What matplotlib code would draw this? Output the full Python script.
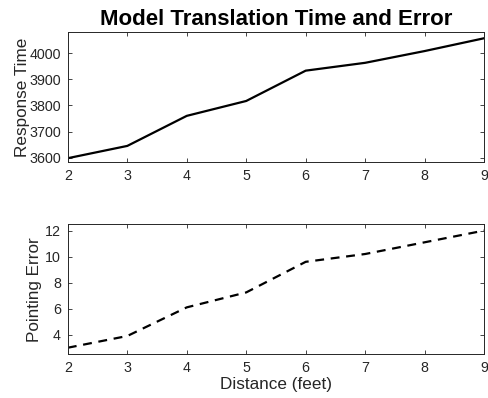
import matplotlib
matplotlib.use('Agg')
import matplotlib.pyplot as plt

# Data
distance = [2, 3, 4, 5, 6, 7, 8, 9]
response_time = [3598, 3645, 3760, 3817, 3933, 3963, 4008, 4057]
pointing_error = [3.0, 3.9, 6.1, 7.25, 9.6, 10.2, 11.1, 12.0]
x_ticks = [2, 3, 4, 5, 6, 7, 8, 9]
rt_ticks = [3600, 3700, 3800, 3900, 4000]
pe_ticks = [4, 6, 8, 10, 12]

plt.rcParams['font.family'] = ['Liberation Sans', 'DejaVu Sans']
grey = '#262626'

fig = plt.figure(figsize=(4.88, 3.98), dpi=100)
ax1 = fig.add_axes([0.139, 0.594, 0.853, 0.325])
ax2 = fig.add_axes([0.139, 0.110, 0.853, 0.327])

ax1.plot(distance, response_time, color='black', linewidth=1.6)
ax2.plot(distance, pointing_error, color='black', linewidth=1.6, linestyle=(0, (4, 3)))

ax1.set_ylim(3585, 4080)
ax1.set_yticks(rt_ticks)
ax2.set_ylim(2.5, 12.5)
ax2.set_yticks(pe_ticks)

for ax in (ax1, ax2):
  ax.set_xlim(2, 9)
  ax.set_xticks(x_ticks)
  ax.tick_params(direction='in', top=True, right=True, length=3, width=0.6,
                 labelsize=10.3, colors=grey, labelcolor=grey, pad=5)
  for sp in ax.spines.values():
    sp.set_linewidth(0.7)
    sp.set_color(grey)

ax1.set_ylabel('Response Time', fontsize=12.3, color=grey)
ax2.set_ylabel('Pointing Error', fontsize=12.3, color=grey)
ax1.yaxis.set_label_coords(-0.091, 0.5)
ax2.yaxis.set_label_coords(-0.062, 0.5)
ax2.set_xlabel('Distance (feet)', fontsize=12.3, color=grey, labelpad=1)
ax1.set_title('Model Translation Time and Error', fontsize=16, fontweight='bold', pad=5)

fig.savefig('out.png', dpi=100)
